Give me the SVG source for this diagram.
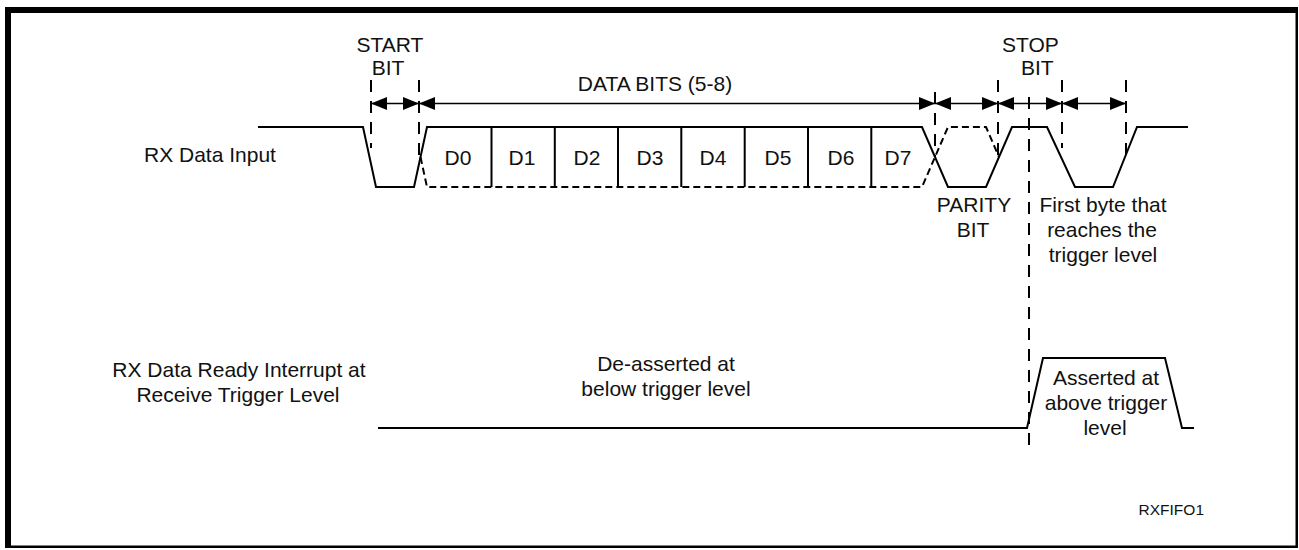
<svg xmlns="http://www.w3.org/2000/svg" width="1299" height="550" viewBox="0 0 1299 550">
<style>
text{font-family:"Liberation Sans",Arial,sans-serif;font-size:21px;fill:#111}
.c{text-anchor:middle}
.sig{fill:none;stroke:#000;stroke-width:2;stroke-linejoin:miter}
.dsig{fill:none;stroke:#000;stroke-width:2;stroke-dasharray:7,4}
.vd{fill:none;stroke:#000;stroke-width:2;stroke-dasharray:12,9}
.arr{fill:none;stroke:#000;stroke-width:1.5;marker-start:url(#ah);marker-end:url(#ah)}
</style>
<defs>
<marker id="ah" markerUnits="userSpaceOnUse" markerWidth="16" markerHeight="13" refX="16" refY="6.5" orient="auto-start-reverse" viewBox="0 0 16 13">
<path d="M0,0 L16,6.5 L0,13 z" fill="#000"/>
</marker>
</defs>
<rect width="1299" height="550" fill="#fff"/>
<g id="frame">
<rect x="6.25" y="8.25" width="1290.5" height="538.5" fill="none" stroke="#000" stroke-width="2.5"/>
<rect x="5" y="7" width="1293" height="6" fill="#000"/>
<rect x="5" y="7" width="6" height="541" fill="#000"/>
</g>
<g id="labels">
<text x="144" y="162">RX Data Input</text>
<text class="c" x="239" y="377">RX Data Ready Interrupt at</text>
<text class="c" x="238" y="402">Receive Trigger Level</text>
<text class="c" x="390" y="52">START</text>
<text class="c" x="388" y="75">BIT</text>
<text class="c" x="655" y="91">DATA BITS (5-8)</text>
<text x="1002" y="52">STOP</text>
<text x="1021" y="75">BIT</text>
<text class="c" x="974" y="212">PARITY</text>
<text class="c" x="973" y="237">BIT</text>
<text class="c" x="1103" y="212">First byte that</text>
<text class="c" x="1102" y="237">reaches the</text>
<text class="c" x="1103" y="262">trigger level</text>
<text class="c" x="666" y="371">De-asserted at</text>
<text class="c" x="666" y="396">below trigger level</text>
<text class="c" x="1106" y="385">Asserted at</text>
<text class="c" x="1106" y="410">above trigger</text>
<text class="c" x="1105" y="435">level</text>
<text x="1204" y="515" style="font-size:15.5px;text-anchor:end">RXFIFO1</text>
</g>
<g id="rx-data-input">
<path class="sig" d="M258,127 H363 L376,187 H414 L427,127 H922 L948,187 H986 L1012,127 H1047 L1075,187 H1113 L1137,127 H1188"/>
<path class="dsig" d="M420.5,157 L427,187 H922 L948,127 H986 L999,157"/>
<path class="sig" d="M491.5,127 V187 M554.8,127 V187 M618,127 V187 M681.3,127 V187 M744.7,127 V187 M808,127 V187 M871.3,127 V187"/>
<text class="c" x="458" y="165">D0</text>
<text class="c" x="522" y="165">D1</text>
<text class="c" x="587" y="165">D2</text>
<text class="c" x="650" y="165">D3</text>
<text class="c" x="713" y="165">D4</text>
<text class="c" x="778" y="165">D5</text>
<text class="c" x="841" y="165">D6</text>
<text class="c" x="898" y="165">D7</text>
</g>
<g id="rx-interrupt">
<path class="sig" d="M378,428 H1027 L1043,358 H1165 L1182,428 H1194"/>
</g>
<g id="connectors">
<path class="vd" d="M371,80 V148 M419,80 V158 M935,92 V157 M998,80 V155 M1029,97 V452 M1062,80 V148 M1126,80 V163"/>
<line class="arr" x1="371" y1="103.5" x2="419" y2="103.5"/>
<line class="arr" x1="419" y1="103.5" x2="935" y2="103.5"/>
<line class="arr" x1="935" y1="103.5" x2="998" y2="103.5"/>
<line class="arr" x1="998" y1="103.5" x2="1062" y2="103.5"/>
<line class="arr" x1="1062" y1="103.5" x2="1126" y2="103.5"/>
</g>
</svg>
